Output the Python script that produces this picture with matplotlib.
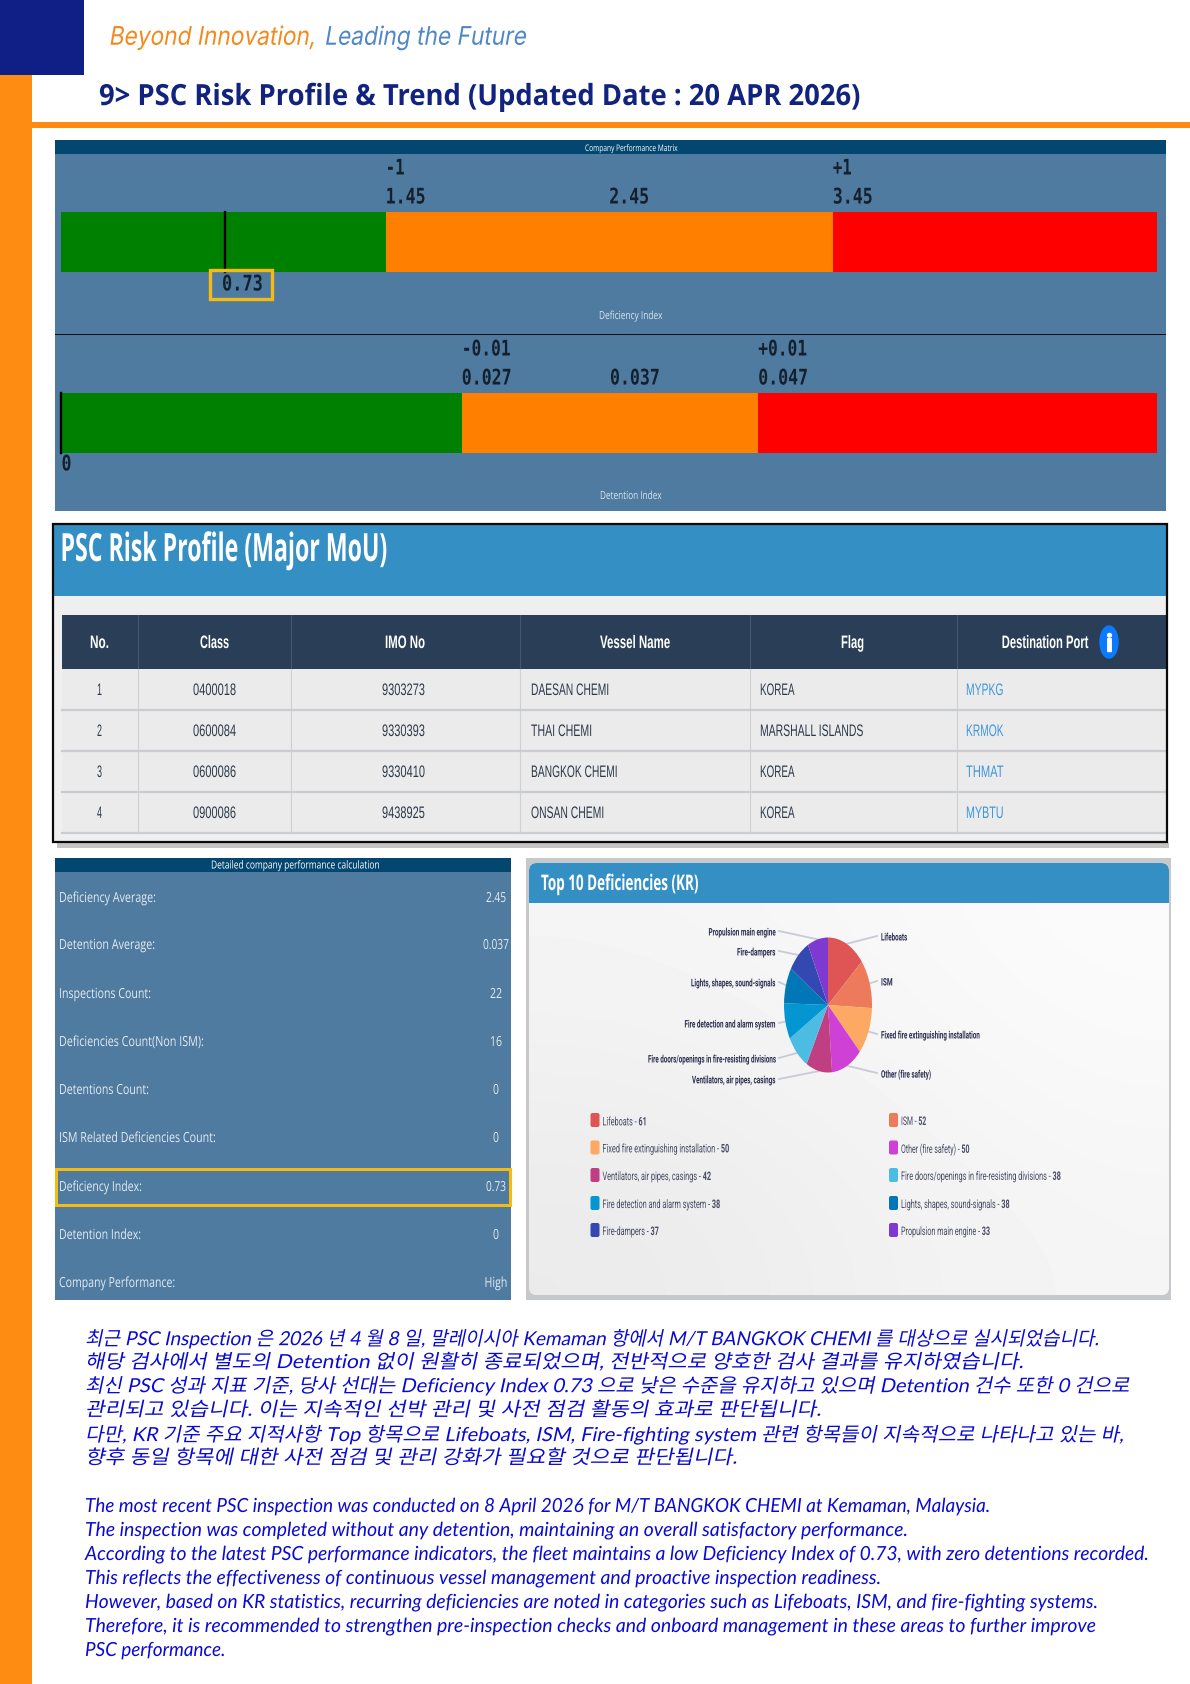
import numpy as np
import matplotlib
matplotlib.use('Agg')
import matplotlib.pyplot as plt
from matplotlib.patches import Rectangle, FancyBboxPatch, Ellipse
from matplotlib.patheffects import AbstractPathEffect
from matplotlib.transforms import Affine2D

# gauge data
def_edges = [0, 1.45, 3.45, 4.9]
def_value = 0.73
def_avg = 2.45
det_edges = [0, 0.027, 0.047, 0.0739]
det_value = 0
det_avg = 0.037
band_colors = ['#008000', '#ff8000', '#ff0000']

# table data
table_head = ['No.', 'Class', 'IMO No', 'Vessel Name', 'Flag', 'Destination Port']
col_no = ['1', '2', '3', '4']
col_class = ['0400018', '0600084', '0600086', '0900086']
col_imo = ['9303273', '9330393', '9330410', '9438925']
col_vessel = ['DAESAN CHEMI', 'THAI CHEMI', 'BANGKOK CHEMI', 'ONSAN CHEMI']
col_flag = ['KOREA', 'MARSHALL ISLANDS', 'KOREA', 'KOREA']
col_port = ['MYPKG', 'KRMOK', 'THMAT', 'MYBTU']

# detail panel
detail_names = ['Deficiency Average:', 'Detention Average:', 'Inspections Count:',
                'Deficiencies Count(Non ISM):', 'Detentions Count:',
                'ISM Related Deficiencies Count:', 'Deficiency Index:',
                'Detention Index:', 'Company Performance:']
detail_values = ['2.45', '0.037', '22', '16', '0', '0', '0.73', '0', 'High']

# pie
pie_names = ['Lifeboats', 'ISM', 'Fixed fire extinguishing installation', 'Other (fire safety)',
             'Ventilators, air pipes, casings', 'Fire doors/openings in fire-resisting divisions',
             'Fire detection and alarm system', 'Lights, shapes, sound-signals',
             'Fire-dampers', 'Propulsion main engine']
pie_values = [61, 52, 50, 50, 42, 38, 38, 38, 37, 33]
pie_colors = ['#df5454', '#ee7a5c', '#fda863', '#cf40d4', '#c03f83',
              '#4cbce2', '#0396d3', '#0277b8', '#3348b0', '#7e3ad0']

text_kr = ['최근 PSC Inspection 은 2026 년 4 월 8 일, 말레이시아 Kemaman 항에서 M/T BANGKOK CHEMI 를 대상으로 실시되었습니다.',
           '해당 검사에서 별도의 Detention 없이 원활히 종료되었으며, 전반적으로 양호한 검사 결과를 유지하였습니다.',
           '최신 PSC 성과 지표 기준, 당사 선대는 Deficiency Index 0.73 으로 낮은 수준을 유지하고 있으며 Detention 건수 또한 0 건으로',
           '관리되고 있습니다. 이는 지속적인 선박 관리 및 사전 점검 활동의 효과로 판단됩니다.',
           '다만, KR 기준 주요 지적사항 Top 항목으로 Lifeboats, ISM, Fire-fighting system 관련 항목들이 지속적으로 나타나고 있는 바,',
           '향후 동일 항목에 대한 사전 점검 및 관리 강화가 필요할 것으로 판단됩니다.']
text_en = ['The most recent PSC inspection was conducted on 8 April 2026 for M/T BANGKOK CHEMI at Kemaman, Malaysia.',
           'The inspection was completed without any detention, maintaining an overall satisfactory performance.',
           'According to the latest PSC performance indicators, the fleet maintains a low Deficiency Index of 0.73, with zero detentions recorded.',
           'This reflects the effectiveness of continuous vessel management and proactive inspection readiness.',
           'However, based on KR statistics, recurring deficiencies are noted in categories such as Lifeboats, ISM, and fire-fighting systems.',
           'Therefore, it is recommended to strengthen pre-inspection checks and onboard management in these areas to further improve',
           'PSC performance.']

W, H = 1190, 1684
SANS = 'Liberation Sans'
plt.rcParams['mathtext.fontset'] = 'custom'
plt.rcParams['mathtext.rm'] = 'Roboto'
plt.rcParams['mathtext.bf'] = 'Roboto:bold'
fig = plt.figure(figsize=(W / 100, H / 100), dpi=100, facecolor='white')
bg = fig.add_axes([0, 0, 1, 1])
bg.set_xlim(0, W)
bg.set_ylim(H, 0)
bg.axis('off')
renderer = fig.canvas.get_renderer()


class Squeeze(AbstractPathEffect):
    # the reference text is squashed sideways, no condensed font here so scale the glyphs
    def __init__(self, sx=1.0, shear=0):
        super().__init__()
        self.sx = sx
        self.shear = shear

    def draw_path(self, renderer, gc, tpath, affine, rgbFace=None):
        tr = Affine2D().scale(self.sx, 1).skew_deg(self.shear, 0) + affine
        renderer.draw_path(gc, tpath, tr, rgbFace)


def put(x, y, s, width=None, size=10, ha='left', shear=0, **kw):
    # text in pixel coords, width = squeeze the glyphs to that many pixels
    kw.setdefault('family', SANS)
    t = bg.text(x, y + 1.5, s, fontsize=size, va='center', ha='left', **kw)
    w = t.get_window_extent(renderer).width
    sx = 1.0 if width is None else width / w
    shown = w * sx
    if ha == 'center':
        t.set_x(x - shown / 2)
    elif ha == 'right':
        t.set_x(x - shown)
    t.set_path_effects([Squeeze(sx, shear)])
    return t


def rect(x0, y0, x1, y1, color, z=1, **kw):
    bg.add_patch(Rectangle((x0, y0), x1 - x0, y1 - y0, facecolor=color, edgecolor='none', zorder=z, **kw))


def gauge(y0, y1, edges, value):
    g = fig.add_axes([61.5 / W, 1 - y1 / H, (1157 - 61.5) / W, (y1 - y0) / H])
    g.axis('off')
    g.set_xlim(edges[0], edges[-1])
    g.set_ylim(-0.5, 0.5)
    for i in range(3):
        g.barh(0, edges[i + 1] - edges[i], left=edges[i], height=1, color=band_colors[i])
    g.plot([value, value], [-0.5, 0.5], color='black', lw=1.7, clip_on=False)
    return lambda v: g.transData.transform((v, 0))[0]


# page frame
rect(0, 0, 84, 75, '#0f1f85')
rect(0, 75, 32, H, '#ff8c12')
rect(32, 122, W, 128, '#ff8c12')
put(108.5, 36.5, 'Beyond Innovation,', width=207, size=18.5, shear=10, family='Inter', color='#f28a1e')
put(324, 36.5, 'Leading the Future', width=202, size=18.5, shear=10, family='Inter', color='#4f87c9')
put(99, 96, '9> PSC Risk Profile & Trend (Updated Date : 20 APR 2026)', width=760, size=21, family='Open Sans', weight='bold', color='#12237f')

# gauges
rect(55, 140, 1166, 511, '#4f7ba0')
rect(55, 140, 1166, 154, '#03466f')
rect(55, 333.5, 1166, 335, '#111111', z=2)
put(631, 147, 'Company Performance Matrix', width=92, size=6.5, family='Open Sans', color='white', ha='center')
put(631, 315, 'Deficiency Index', width=64, size=8, family='Open Sans', color='#dbe5ee', ha='center')
put(631, 495, 'Detention Index', width=62, size=8, family='Open Sans', color='#dbe5ee', ha='center')

mono = dict(family='DejaVu Sans Mono', weight='bold', color='#14202c', size=15.5)
x1 = gauge(212, 272, def_edges, def_value)
put(x1(def_edges[1]), 167, '-1', width=19, **mono)
put(x1(def_edges[2]), 167, '+1', width=19, **mono)
put(x1(def_edges[1]), 196, '%.2f' % def_edges[1], width=40, **mono)
put(x1(def_avg), 196, '%.2f' % def_avg, width=40, **mono)
put(x1(def_edges[2]), 196, '%.2f' % def_edges[2], width=40, **mono)
put(222, 283, '%.2f' % def_value, width=41, **mono)
fig.add_artist(Rectangle((210, 269.5), 62, 29, fill=False, edgecolor='#f5bb10', lw=2.4, zorder=5, transform=bg.transData))

x2 = gauge(393, 453, det_edges, det_value)
put(x2(det_edges[1]), 348, '-0.01', width=49, **mono)
put(x2(det_edges[2]), 348, '+0.01', width=49, **mono)
put(x2(det_edges[1]), 377, '%.3f' % det_edges[1], width=50, **mono)
put(x2(det_avg), 377, '%.3f' % det_avg, width=50, **mono)
put(x2(det_edges[2]), 377, '%.3f' % det_edges[2], width=50, **mono)
put(x2(det_value), 463, '%d' % det_value, width=10, **mono)

# table card
rect(57, 843, 1169, 848, '#c4c4c4')
rect(53, 524, 1167, 842, '#efefef')
rect(53, 524, 1167, 596, '#348fc4', z=2)
put(60.5, 549, 'PSC Risk Profile (Major MoU)', width=326, size=28, family='Open Sans', weight='bold', color='white', zorder=3)
rect(62, 615, 1166, 669, '#2a3f57', z=2)
col_edges = [62, 137.5, 291, 520, 750, 957, 1166]
head_x = [99.5, 214.5, 405, 635, 852.5, 1045]
head_w = [19, 29, 40, 70, 23, 86.5]
row_edges = [669, 710, 751, 792, 833]
for i in range(6):
    put(head_x[i], 642, table_head[i], width=head_w[i], size=13, weight='bold', color='white', ha='center', zorder=4)
    if 0 < i:
        bg.plot([col_edges[i]] * 2, [615, 669], color='#425770', lw=0.8, zorder=3)
        bg.plot([col_edges[i]] * 2, [669, 833], color='#cdd0d4', lw=0.8, zorder=3)
# info icon
bg.add_patch(Ellipse((1109, 642), 18, 32, color='#0a7bff', zorder=4))
bg.plot([1109], [642], marker='$\\mathbf{i}$', ms=13, color='white', zorder=5)
rect(62, 669, 1166, 833, '#ebebeb', z=1.5)
vessel_w = [78, 61, 86.5, 73]
for j in range(4):
    yy = (row_edges[j] + row_edges[j + 1]) / 2 - 0.5
    c = '#2e3a4a'
    put(99.5, yy, col_no[j], width=5, size=12, color=c, ha='center', zorder=4)
    put(214.5, yy, col_class[j], width=43, size=12, color=c, ha='center', zorder=4)
    put(403.5, yy, col_imo[j], width=43, size=12, color=c, ha='center', zorder=4)
    put(531, yy, col_vessel[j], width=vessel_w[j], size=12, color=c, zorder=4)
    put(760, yy, col_flag[j], width=34.5 if j != 1 else 103, size=12, color=c, zorder=4)
    put(966, yy, col_port[j], width=37.5, size=12, color='#3f97dc', zorder=4)
    bg.plot([62, 1166], [row_edges[j + 1]] * 2, color='#c9ccd0', lw=1.6, zorder=3)
bg.add_patch(Rectangle((53, 524), 1114, 318, fill=False, edgecolor='#0a0a0a', lw=1.6, zorder=6))

# detail panel
rect(55, 858, 511, 1300, '#4f7ba0')
rect(55, 858, 511, 872, '#03466f')
put(296, 864.5, 'Detailed company performance calculation', width=170, size=8, family='Open Sans', color='white', ha='center')
detail_y = [897, 944, 993, 1041, 1089, 1137, 1186, 1234, 1282]
detail_w = [97, 96, 92, 145, 90, 157, 83, 82, 116]
value_w = [20, 26, 12, 12, 6, 6, 20, 6, 23]
for i in range(9):
    put(59, detail_y[i], detail_names[i], width=detail_w[i], size=10, family='Open Sans', color='#e3ebf2')
    put(496, detail_y[i], detail_values[i], width=value_w[i], size=10, family='Open Sans', color='#e3ebf2', ha='center')
bg.add_patch(Rectangle((56, 1169), 454, 36, fill=False, edgecolor='#f5bb10', lw=2.2, zorder=5))

# pie card
rect(526, 858, 1171, 1300, '#c6c9cc')
card = FancyBboxPatch((533, 867), 632, 424, boxstyle='round,pad=4,rounding_size=8', facecolor='#f1f1f3', edgecolor='none', zorder=2)
bg.add_patch(card)
grad = np.array([[0.96, 0.97, 0.985], [0.94, 0.955, 0.975], [0.92, 0.94, 0.96]])
im = bg.imshow(grad, extent=(529, 1169, 1295, 863), cmap='gray', vmin=0, vmax=1, aspect='auto', interpolation='bicubic', zorder=2.1)
im.set_clip_path(card)
bg.set_xlim(0, W)
bg.set_ylim(H, 0)
bg.add_patch(FancyBboxPatch((533, 867), 632, 18, boxstyle='round,pad=4,rounding_size=8', facecolor='#348fc4', edgecolor='none', zorder=3))
rect(529, 878, 1169, 903, '#348fc4', z=3)
put(541, 883, 'Top 10 Deficiencies (KR)', width=157, size=15.5, family='Open Sans', weight='bold', color='white', zorder=4)

cx, cy, rx, ry = 828, 1005, 44, 67.5
pa = fig.add_axes([(cx - rx) / W, 1 - (cy + ry) / H, 2 * rx / W, 2 * ry / H])
wedges, _ = pa.pie(pie_values, colors=pie_colors, startangle=90, counterclock=False, radius=1)
pa.set_aspect('auto')
pa.set_xlim(-1, 1)
pa.set_ylim(-1, 1)

label_y = [936, 981, 1034, 1073, 1079, 1058, 1023, 982, 951, 931]
label_w = [26, 11.5, 98, 50, 83, 127, 90.5, 84, 38, 66.5]
for i in range(10):
    ang = np.deg2rad((wedges[i].theta1 + wedges[i].theta2) / 2)
    ex = cx + rx * np.cos(ang)
    ey = cy - ry * np.sin(ang)
    right = np.cos(ang) > 0
    tx = 881 if right else 775
    bg.plot([ex, tx - 4 if right else tx + 4], [ey, label_y[i]], color='#c8cad6', lw=1.3, zorder=4)
    put(tx, label_y[i], pie_names[i], width=label_w[i], size=7.5, family='Roboto', weight='bold', color='#2b2e4f',
        ha='left' if right else 'right', zorder=5)

swatch_x = [595, 893.5]
legend_y = [1120, 1147.5, 1175, 1203, 1230]
legend_w = [44, 26, 127, 69, 109, 160, 118, 109, 57, 89.5]
for i in range(10):
    c = i % 2
    r = i // 2
    y = legend_y[r]
    bg.add_patch(FancyBboxPatch((swatch_x[c] - 3.5, y - 6), 7, 12, boxstyle='round,pad=1,rounding_size=2', facecolor=pie_colors[i], edgecolor='none', zorder=5))
    # one text per entry, the count is bold through mathtext
    put(swatch_x[c] + 7.5, y, pie_names[i] + ' - $\\mathbf{%d}$' % pie_values[i], width=legend_w[i], size=8.5,
        family='Roboto', color='#474b63', zorder=5)

# commentary
kr_fonts = ['Lato', 'Noto Sans CJK KR']
kr_y = [1337, 1360, 1384, 1408, 1433, 1456]
kr_w = [1014, 938, 1045, 736, 1039, 652]
for i in range(6):
    put(85, kr_y[i], text_kr[i], width=kr_w[i], size=14, shear=12, family=kr_fonts, color='#0a0ad2', zorder=5)
en_y = [1505, 1529, 1553, 1577, 1601, 1625, 1649]
en_w = [909, 827, 1069, 800, 1018, 1016, 141]
for i in range(7):
    put(85, en_y[i], text_en[i], width=en_w[i], size=14, family='Lato', style='italic', color='#0a0ad2', zorder=5)

fig.savefig('out.png', dpi=100)
